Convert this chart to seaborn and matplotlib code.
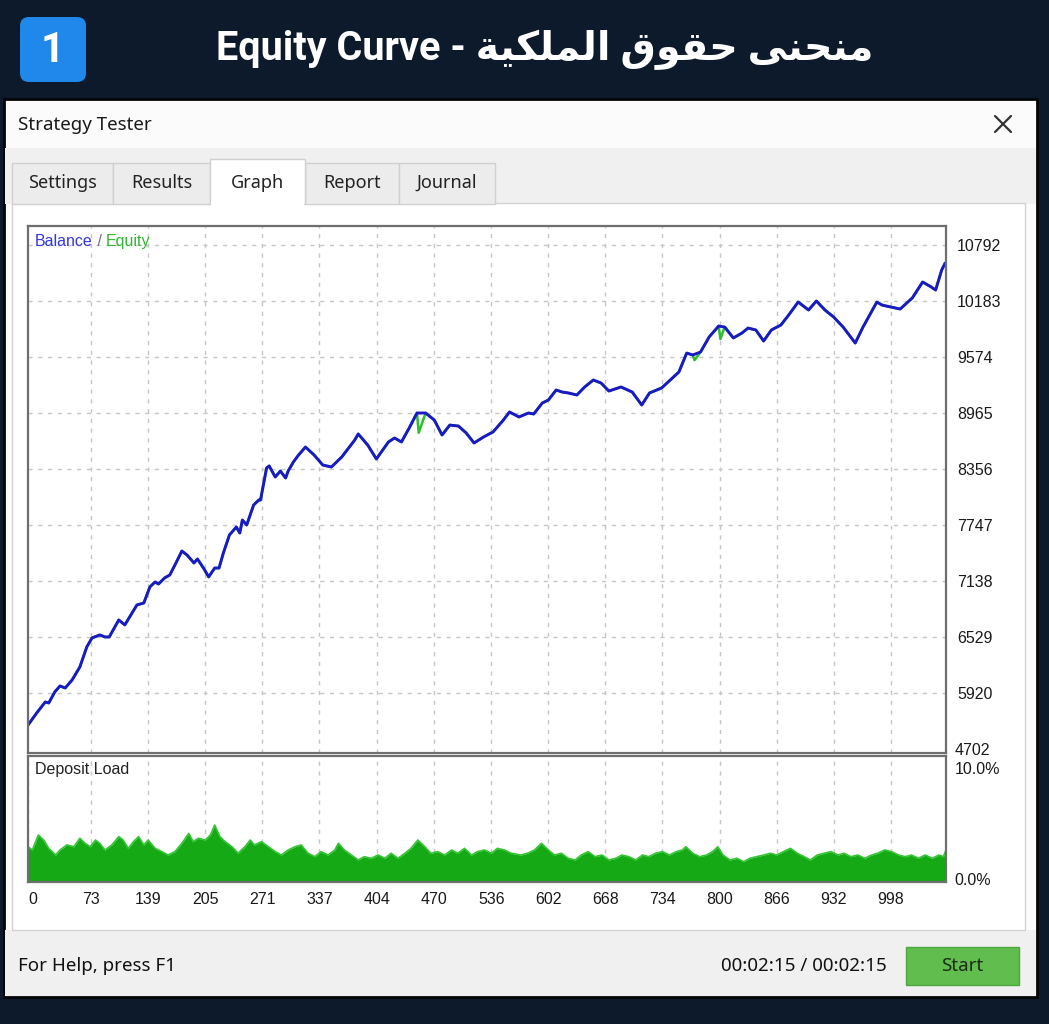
import numpy as np
import pandas as pd
import matplotlib
matplotlib.use("Agg")
import matplotlib.pyplot as plt
from matplotlib.patches import Rectangle, FancyBboxPatch
from matplotlib.transforms import ScaledTranslation
import seaborn as sns

W, H = 1049, 1024

# ---------------------------------------------------------------------------
# data
# ---------------------------------------------------------------------------
TITLE_EN = "Equity Curve - "
TITLE_AR = "منحنى حقوق الملكية"
BADGE = "1"
WINDOW_TITLE = "Strategy Tester"
TABS = ["Settings", "Results", "Graph", "Report", "Journal"]
ACTIVE_TAB = "Graph"
STATUS_LEFT = "For Help, press F1"
STATUS_TIME = "00:02:15 / 00:02:15"
BUTTON = "Start"

X_TICKS = [0, 73, 139, 205, 271, 337, 404, 470, 536, 602, 668, 734, 800, 866, 932, 998]
X_MAX = 1062
Y_GRID = [5920, 6529, 7138, 7747, 8356, 8965, 9574, 10183, 10792]
Y_RANGE = (5267, 10999)
Y_MIN_LABEL = "4702"
DEP_TICKS = [0, 10]
DEP_LABELS = ["0.0%", "10.0%"]

BAL_IDX = [0, 10, 20, 24, 31, 37, 43, 51, 60, 68, 74, 83, 89, 94, 105, 112, 126, 134, 141, 147,
           151, 158, 164, 170, 178, 184, 192, 196, 203, 209, 216, 221, 226, 233, 241, 245, 248, 253, 261, 267,
           269, 276, 279, 286, 292, 298, 301, 307, 313, 321, 331, 341, 351, 363, 378, 382, 393, 403, 417, 424,
           432, 441, 450, 460, 470, 479, 488, 498, 507, 516, 527, 538, 550, 557, 568, 579, 585, 595, 602, 611,
           618, 625, 635, 644, 654, 663, 672, 686, 699, 710, 719, 733, 743, 753, 762, 769, 778, 788, 799, 806,
           816, 826, 833, 842, 851, 860, 871, 880, 891, 903, 912, 922, 932, 943, 957, 966, 982, 988, 998, 1009,
           1023, 1035, 1045, 1050, 1057, 1061]
BAL_VAL = [5570, 5702, 5822, 5811, 5931, 5996, 5974, 6061, 6203, 6420, 6518, 6551, 6529, 6529, 6714, 6660, 6877, 6899, 7073, 7127,
           7105, 7171, 7203, 7312, 7464, 7420, 7334, 7377, 7279, 7182, 7279, 7279, 7442, 7638, 7725, 7660, 7801, 7747, 7964, 8019,
           8019, 8367, 8389, 8269, 8334, 8258, 8334, 8432, 8508, 8595, 8508, 8399, 8378, 8487, 8671, 8737, 8617, 8465, 8650, 8693,
           8650, 8802, 8965, 8965, 8889, 8726, 8834, 8823, 8747, 8639, 8704, 8759, 8889, 8976, 8922, 8965, 8954, 9074, 9106, 9215,
           9193, 9183, 9161, 9248, 9324, 9291, 9204, 9248, 9193, 9052, 9183, 9237, 9324, 9411, 9617, 9596, 9628, 9792, 9911, 9900,
           9781, 9835, 9889, 9868, 9748, 9868, 9922, 10031, 10172, 10085, 10183, 10085, 10009, 9900, 9726, 9900, 10172, 10139, 10118, 10096,
           10216, 10390, 10335, 10303, 10520, 10596]

# equity follows balance except for a few short floating drawdowns
EQ_DIP_IDX = [452, 771, 801]
EQ_DIP_VAL = [8750, 9540, 9770]

DEP_IDX = [0, 5, 12, 18, 24, 32, 37, 45, 53, 60, 66, 72, 78, 83, 89, 97, 105, 110, 116, 122, 128,
           134, 139, 147, 155, 162, 170, 178, 186, 191, 197, 205, 211, 216, 222, 228, 236, 243, 251, 257, 262,
           270, 278, 286, 293, 301, 309, 316, 324, 332, 339, 347, 355, 359, 366, 374, 382, 389, 397, 405, 413,
           420, 428, 436, 443, 451, 459, 466, 474, 482, 490, 497, 505, 513, 520, 528, 536, 543, 551, 559,
           570, 578, 586, 594, 602, 609, 617, 625, 633, 640, 648, 656, 664, 672, 680, 687, 695, 703, 711, 718,
           726, 734, 742, 750, 757, 761, 769, 777, 785, 792, 798, 804, 812, 820, 828, 835, 843, 851, 859, 866,
           874, 882, 890, 898, 905, 913, 921, 929, 937, 944, 952, 960, 968, 976, 983, 991, 999, 1007, 1015, 1022,
           1030, 1038, 1046, 1054, 1059, 1062]
DEP_PCT = [2.80, 2.54, 3.73, 3.33, 2.67, 2.14, 2.54, 2.94, 2.80, 3.47, 3.07, 2.80, 3.33, 3.07, 2.54, 2.94, 3.60, 3.33, 2.67, 3.20, 3.60,
           2.94, 3.33, 2.67, 2.41, 2.14, 2.41, 3.07, 3.86, 3.20, 3.47, 3.33, 3.73, 4.52, 3.60, 3.20, 2.80, 2.28, 2.80, 3.33, 2.94,
           3.20, 2.80, 2.41, 2.14, 2.54, 2.80, 2.94, 2.28, 2.01, 2.41, 2.14, 2.54, 3.07, 2.54, 2.14, 1.75, 2.01, 1.88, 2.14, 1.88,
           2.28, 1.88, 2.28, 2.67, 3.33, 2.80, 2.28, 2.41, 2.14, 2.54, 2.28, 2.67, 2.14, 2.41, 2.54, 2.28, 2.67, 2.54, 2.28,
           2.14, 2.28, 2.54, 3.07, 2.54, 2.14, 2.28, 1.88, 1.75, 2.14, 2.41, 2.01, 2.14, 1.75, 1.88, 2.14, 2.01, 1.75, 2.14, 2.01,
           2.28, 2.41, 2.14, 2.41, 2.54, 2.80, 2.28, 2.01, 2.14, 2.41, 2.80, 2.14, 1.75, 1.88, 1.61, 1.88, 2.01, 2.14, 2.28, 2.14,
           2.41, 2.67, 2.28, 2.01, 1.75, 2.14, 2.28, 2.41, 2.14, 2.28, 2.01, 2.14, 1.88, 2.14, 2.28, 2.54, 2.41, 2.14, 2.01, 2.14,
           1.88, 2.14, 1.88, 2.14, 2.01, 2.54]

# ---------------------------------------------------------------------------
# tiny Arabic shaper (matplotlib does no joining / RTL on its own)
# forms: isolated, final, initial, medial
# ---------------------------------------------------------------------------
AR_FORMS = {
    "ا": ("\uFE8D", "\uFE8E", None, None),
    "ح": ("\uFEA1", "\uFEA2", "\uFEA3", "\uFEA4"),
    "ق": ("\uFED5", "\uFED6", "\uFED7", "\uFED8"),
    "ك": ("\uFED9", "\uFEDA", "\uFEDB", "\uFEDC"),
    "ل": ("\uFEDD", "\uFEDE", "\uFEDF", "\uFEE0"),
    "م": ("\uFEE1", "\uFEE2", "\uFEE3", "\uFEE4"),
    "ن": ("\uFEE5", "\uFEE6", "\uFEE7", "\uFEE8"),
    "و": ("\uFEED", "\uFEEE", None, None),
    "ى": ("\uFEEF", "\uFEF0", None, None),
    "ي": ("\uFEF1", "\uFEF2", "\uFEF3", "\uFEF4"),
    "ة": ("\uFE93", "\uFE94", None, None),
}


def shape_arabic(text):
    out = []
    for i, ch in enumerate(text):
        f = AR_FORMS.get(ch)
        if f is None:
            out.append(ch)
            continue
        prev = text[i - 1] if i > 0 else ""
        nxt = text[i + 1] if i + 1 < len(text) else ""
        jp = prev in AR_FORMS and AR_FORMS[prev][2] is not None
        jn = nxt in AR_FORMS and f[2] is not None
        k = 3 if (jp and jn) else 1 if jp else 2 if jn else 0
        out.append(f[k])
    return "".join(reversed(out))


sns.set_theme(style="white")
plt.rcParams["font.family"] = ["Noto Sans", "DejaVu Sans"]
UI_FONT = ["Noto Sans", "DejaVu Sans"]
HEAD_FONT = ["Roboto", "DejaVu Sans"]
CHART_FONT = ["Liberation Sans", "DejaVu Sans"]

fig = plt.figure(figsize=(W / 100, H / 100), dpi=100)

# ---------------------------------------------------------------------------
# window chrome, drawn in pixel coordinates
# ---------------------------------------------------------------------------
bg = fig.add_axes([0, 0, 1, 1])
bg.set_xlim(0, W)
bg.set_ylim(H, 0)
bg.axis("off")

bg.add_patch(Rectangle((0, 0), W, H, color="#0d1a2c", zorder=0))
bg.add_patch(FancyBboxPatch((20, 17), 66, 65, boxstyle="round,pad=0,rounding_size=9",
                            fc="#2088ea", ec="none", zorder=1))
bg.text(53, 51, BADGE, color="white", fontsize=30, fontweight="bold",
        ha="center", va="center", family=HEAD_FONT, zorder=2)
bg.text(545, 50, TITLE_EN + shape_arabic(TITLE_AR), color="white", fontsize=28.5,
        fontweight="bold", ha="center", va="center", family=HEAD_FONT, zorder=2)

# window body
bg.add_patch(Rectangle((4, 99), 1033, 898, fc="#fbfbfb", ec="#050505", lw=2, zorder=1))
bg.add_patch(Rectangle((5, 148), 1031, 56, fc="#f0f0f0", ec="none", zorder=1))
bg.add_patch(Rectangle((5, 930), 1031, 66, fc="#f0f0f0", ec="none", zorder=1))
bg.add_patch(Rectangle((12, 203), 1013, 727, fc="white", ec="#d2d2d2", lw=1, zorder=2))
bg.text(18, 125, WINDOW_TITLE, fontsize=13.5, color="#1a1a1a", va="center", family=UI_FONT, zorder=3)
bg.plot([995, 1011], [116, 132], color="#333333", lw=1.6, zorder=3)
bg.plot([995, 1011], [132, 116], color="#333333", lw=1.6, zorder=3)

tab_edges = [12, 113, 210, 305, 399, 495]
for name, x0, x1 in zip(TABS, tab_edges[:-1], tab_edges[1:]):
    active = name == ACTIVE_TAB
    top = 159 if active else 163
    bg.add_patch(Rectangle((x0, top), x1 - x0, 204 - top,
                           fc="white" if active else "#ececec",
                           ec="#d0d0d0", lw=1, zorder=3 if active else 2.5))
    bg.text((x0 + x1) / 2, 183, name, fontsize=13, color="#222222",
            ha="center", va="center", family=UI_FONT, zorder=4)
bg.add_patch(Rectangle((211, 200), 93, 6, fc="white", ec="none", zorder=3.5))

bg.text(18, 966, STATUS_LEFT, fontsize=13.5, color="#111111", va="center", family=UI_FONT, zorder=3)
bg.text(887, 966, STATUS_TIME, fontsize=13.5, color="#111111", ha="right", va="center",
        family=UI_FONT, zorder=3)
bg.add_patch(Rectangle((906, 947), 113, 38, fc="#60bd4e", ec="#4ea63e", lw=1, zorder=3))
bg.text(962, 966, BUTTON, fontsize=13.5, color="#1c2a18", ha="center", va="center",
        family=UI_FONT, zorder=4)

# ---------------------------------------------------------------------------
# balance / equity chart
# ---------------------------------------------------------------------------
GRID_KW = dict(color="#c6c6c6", linestyle=(0, (3, 4)), linewidth=1.0)
BLUE = "#1a1ac4"
GREEN = "#2cbf2c"

ax = fig.add_axes([28 / W, 1 - 753 / H, 918 / W, 527 / H])
bal = pd.DataFrame({"idx": BAL_IDX, "val": BAL_VAL})
eq = pd.concat([bal, pd.DataFrame({"idx": EQ_DIP_IDX, "val": EQ_DIP_VAL})]).sort_values("idx")

sns.lineplot(data=eq, x="idx", y="val", ax=ax, color=GREEN, linewidth=1.8, estimator=None)
sns.lineplot(data=bal, x="idx", y="val", ax=ax, color=BLUE, linewidth=2.1, estimator=None)

ax.set_xlim(0, X_MAX)
ax.set_ylim(*Y_RANGE)
ax.set_xticks(X_TICKS[1:])
ax.set_xticklabels([])
ax.set_yticks(Y_GRID)
ax.set_yticklabels([str(v) for v in Y_GRID], family=CHART_FONT)
ax.yaxis.tick_right()
ax.tick_params(axis="both", length=0)
ax.tick_params(axis="y", pad=8, labelsize=11.5, labelcolor="#1a1a1a")
ax.grid(True, **GRID_KW)
ax.set_xlabel("")
ax.set_ylabel("")
for s in ax.spines.values():
    s.set_color("#6e6e6e")
    s.set_linewidth(1.6)
ax.annotate(Y_MIN_LABEL, xy=(1, 0), xycoords="axes fraction", xytext=(6, 2),
            textcoords="offset points", ha="left", va="center", fontsize=11.5,
            color="#1a1a1a", family=CHART_FONT)

t1 = ax.annotate("Balance", xy=(0, 1), xycoords="axes fraction", xytext=(5, -11),
                 textcoords="offset points", va="center", fontsize=11.5,
                 color="#3535e0", family=CHART_FONT)
t2 = ax.annotate(" / ", xy=(1, 0.5), xycoords=t1, va="center", fontsize=11.5,
                 color="#707070", family=CHART_FONT)
ax.annotate("Equity", xy=(1, 0.5), xycoords=t2, va="center", fontsize=11.5,
            color="#30b830", family=CHART_FONT)

# ---------------------------------------------------------------------------
# deposit load
# ---------------------------------------------------------------------------
ax2 = fig.add_axes([28 / W, 1 - 882 / H, 918 / W, 126 / H])
ax2.fill_between(DEP_IDX, 0, DEP_PCT, color="#15a915", linewidth=0)
sns.lineplot(x=DEP_IDX, y=DEP_PCT, ax=ax2, color="#34c434", linewidth=1.2, estimator=None)
ax2.set_xlim(0, X_MAX)
ax2.set_ylim(DEP_TICKS[0], DEP_TICKS[-1])
ax2.set_xticks(X_TICKS)
ax2.set_xticklabels([str(v) for v in X_TICKS], family=CHART_FONT)
ax2.set_yticks(DEP_TICKS)
ax2.set_yticklabels(DEP_LABELS, family=CHART_FONT)
ax2.yaxis.tick_right()
ax2.tick_params(axis="both", length=0, labelsize=11.5, labelcolor="#1a1a1a")
ax2.tick_params(axis="x", pad=7)
ax2.tick_params(axis="y", pad=6)
lbls = ax2.get_yticklabels()
lbls[0].set_va("center")
lbls[0].set_transform(lbls[0].get_transform() + ScaledTranslation(0, 1 / 72, fig.dpi_scale_trans))
lbls[1].set_va("top")
lbls[1].set_transform(lbls[1].get_transform() + ScaledTranslation(0, -4 / 72, fig.dpi_scale_trans))
ax2.get_xticklabels()[0].set_ha("left")
ax2.grid(True, axis="x", **GRID_KW)
ax2.grid(False, axis="y")
ax2.set_xlabel("")
ax2.set_ylabel("")
for s in ax2.spines.values():
    s.set_color("#6e6e6e")
    s.set_linewidth(1.6)
ax2.annotate("Deposit Load", xy=(0, 1), xycoords="axes fraction", xytext=(5, -10),
             textcoords="offset points", va="center", fontsize=11.5,
             color="#222222", family=CHART_FONT)

fig.savefig("out.png", dpi=100)
